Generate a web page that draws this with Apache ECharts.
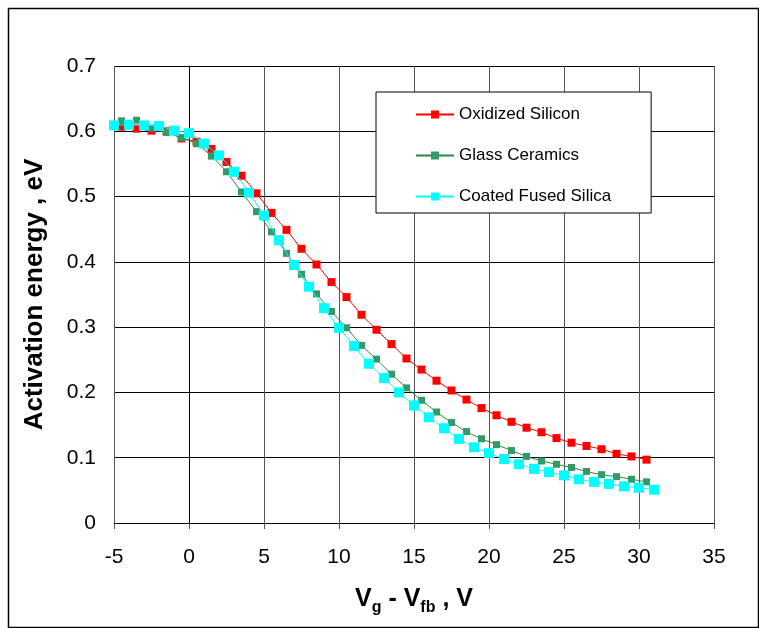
<!DOCTYPE html>
<html>
<head>
<meta charset="utf-8">
<script src="https://cdn.jsdelivr.net/npm/echarts@6/dist/echarts.min.js"></script>
<style>
  html, body { margin: 0; padding: 0; background: #fff; }
  #chart { width: 759px; height: 628px; }
</style>
</head>
<body>
<div id="chart"></div>
<script>
// Gate voltage offsets (V) at which each sample was measured
const xOxidized = [-4.5, -3.5, -2.5, -1.5, -0.5, 0.5, 1.5, 2.5, 3.5, 4.5, 5.5, 6.5, 7.5, 8.5, 9.5, 10.5, 11.5, 12.5,
  13.5, 14.5, 15.5, 16.5, 17.5, 18.5, 19.5, 20.5, 21.5, 22.5, 23.5, 24.5, 25.5, 26.5, 27.5, 28.5, 29.5, 30.5];
const yOxidized = [0.607, 0.604, 0.601, 0.600, 0.589, 0.584, 0.573, 0.553, 0.532, 0.505, 0.475, 0.449, 0.420, 0.396,
  0.369, 0.346, 0.319, 0.296, 0.274, 0.252, 0.235, 0.218, 0.203, 0.189, 0.176, 0.165, 0.155, 0.146, 0.139, 0.130,
  0.123, 0.118, 0.113, 0.106, 0.102, 0.097];

const xGlass = [-4.5, -3.5, -2.5, -1.5, -0.5, 0.5, 1.5, 2.5, 3.5, 4.5, 5.5, 6.5, 7.5, 8.5, 9.5, 10.5, 11.5, 12.5,
  13.5, 14.5, 15.5, 16.5, 17.5, 18.5, 19.5, 20.5, 21.5, 22.5, 23.5, 24.5, 25.5, 26.5, 27.5, 28.5, 29.5, 30.5];
const yGlass = [0.616, 0.617, 0.605, 0.598, 0.590, 0.581, 0.562, 0.538, 0.507, 0.477, 0.446, 0.413, 0.381, 0.351,
  0.324, 0.299, 0.272, 0.251, 0.228, 0.207, 0.188, 0.170, 0.154, 0.140, 0.129, 0.120, 0.111, 0.102, 0.095, 0.090,
  0.085, 0.079, 0.074, 0.071, 0.067, 0.063];

const xFused = [-5, -4, -3, -2, -1, 0, 1, 2, 3, 4, 5, 6, 7, 8, 9, 10, 11, 12, 13, 14, 15, 16, 17, 18, 19, 20,
  21, 22, 23, 24, 25, 26, 27, 28, 29, 30, 31];
const yFused = [0.609, 0.610, 0.609, 0.608, 0.601, 0.597, 0.581, 0.563, 0.538, 0.506, 0.471, 0.433, 0.395, 0.362,
  0.329, 0.299, 0.271, 0.244, 0.222, 0.200, 0.180, 0.162, 0.145, 0.129, 0.116, 0.107, 0.098, 0.090, 0.083, 0.078,
  0.073, 0.067, 0.063, 0.060, 0.056, 0.054, 0.051];

const seriesNames = ['Oxidized Silicon', 'Glass Ceramics', 'Coated Fused Silica'];

const pairs = (xs, ys) => xs.map((x, i) => [x, ys[i]]);
const FONT = 'Liberation Sans, Arial, sans-serif';

const chart = echarts.init(document.getElementById('chart'), null, { renderer: 'canvas' });

chart.setOption({
  animation: false,
  backgroundColor: '#ffffff',
  textStyle: { fontFamily: FONT },
  grid: { left: 114, right: 45, top: 66, bottom: 105, containLabel: false },
  xAxis: {
    type: 'value', min: -5, max: 35, interval: 5,
    name: '{b|V}{s|g}{b| - V}{s|fb}{b| , V}',
    nameLocation: 'middle', nameGap: 64,
    nameTextStyle: {
      rich: {
        b: { fontSize: 25, fontWeight: 'bold', fontFamily: FONT, color: '#000', lineHeight: 28, verticalAlign: 'top' },
        s: { fontSize: 16, fontWeight: 'bold', fontFamily: FONT, color: '#000', lineHeight: 16, verticalAlign: 'top', padding: [13, 0, 0, 0] }
      }
    },
    axisLine: { show: true, onZero: false, lineStyle: { color: '#000', width: 1 } },
    axisTick: { show: true, length: 6, lineStyle: { color: '#555' } },
    axisLabel: { fontSize: 21, color: '#000', margin: 24, fontFamily: FONT },
    splitLine: { show: true, lineStyle: { color: '#555', width: 1 } }
  },
  yAxis: {
    type: 'value', min: 0, max: 0.7, interval: 0.1,
    name: 'Activation energy , eV',
    nameLocation: 'middle', nameRotate: 90, nameGap: 66,
    nameTextStyle: { fontSize: 26, fontWeight: 'bold', color: '#000', fontFamily: FONT },
    axisLine: { show: true, lineStyle: { color: '#000', width: 1 } },
    axisTick: { show: true, length: 8, lineStyle: { color: '#000' } },
    axisLabel: { fontSize: 21, color: '#000', margin: 18, fontFamily: FONT,
      formatter: v => (Math.round(v * 10) / 10).toString() },
    splitLine: { show: true, lineStyle: { color: '#000', width: 1 } }
  },
  legend: {
    orient: 'vertical',
    left: 376, top: 92,
    data: seriesNames,
    itemWidth: 38, itemHeight: 10, itemGap: 24,
    padding: [14, 40, 8, 39],
    backgroundColor: '#ffffff',
    borderColor: '#000', borderWidth: 1,
    textStyle: { fontSize: 17, color: '#000', fontFamily: FONT }
  },
  series: [
    {
      name: seriesNames[0], type: 'line', data: pairs(xOxidized, yOxidized),
      smooth: 0.25, symbol: 'rect', symbolSize: 8,
      lineStyle: { color: '#ff0000', width: 1 },
      itemStyle: { color: '#ff0000' }, z: 3
    },
    {
      name: seriesNames[1], type: 'line', data: pairs(xGlass, yGlass),
      smooth: 0.25, symbol: 'rect', symbolSize: 7,
      lineStyle: { color: '#2a8a3a', width: 1 },
      itemStyle: { color: '#339966' }, z: 4
    },
    {
      name: seriesNames[2], type: 'line', data: pairs(xFused, yFused),
      smooth: 0.25, symbol: 'rect', symbolSize: 10,
      lineStyle: { color: '#00ffff', width: 1 },
      itemStyle: { color: '#00ffff' }, z: 5
    }
  ],
  graphic: [
    {
      type: 'rect', left: 6, top: 6, z: 100, silent: true,
      shape: { width: 750, height: 619 },
      style: { fill: 'none', stroke: '#000', lineWidth: 1.5 }
    }
  ]
});
</script>
</body>
</html>
